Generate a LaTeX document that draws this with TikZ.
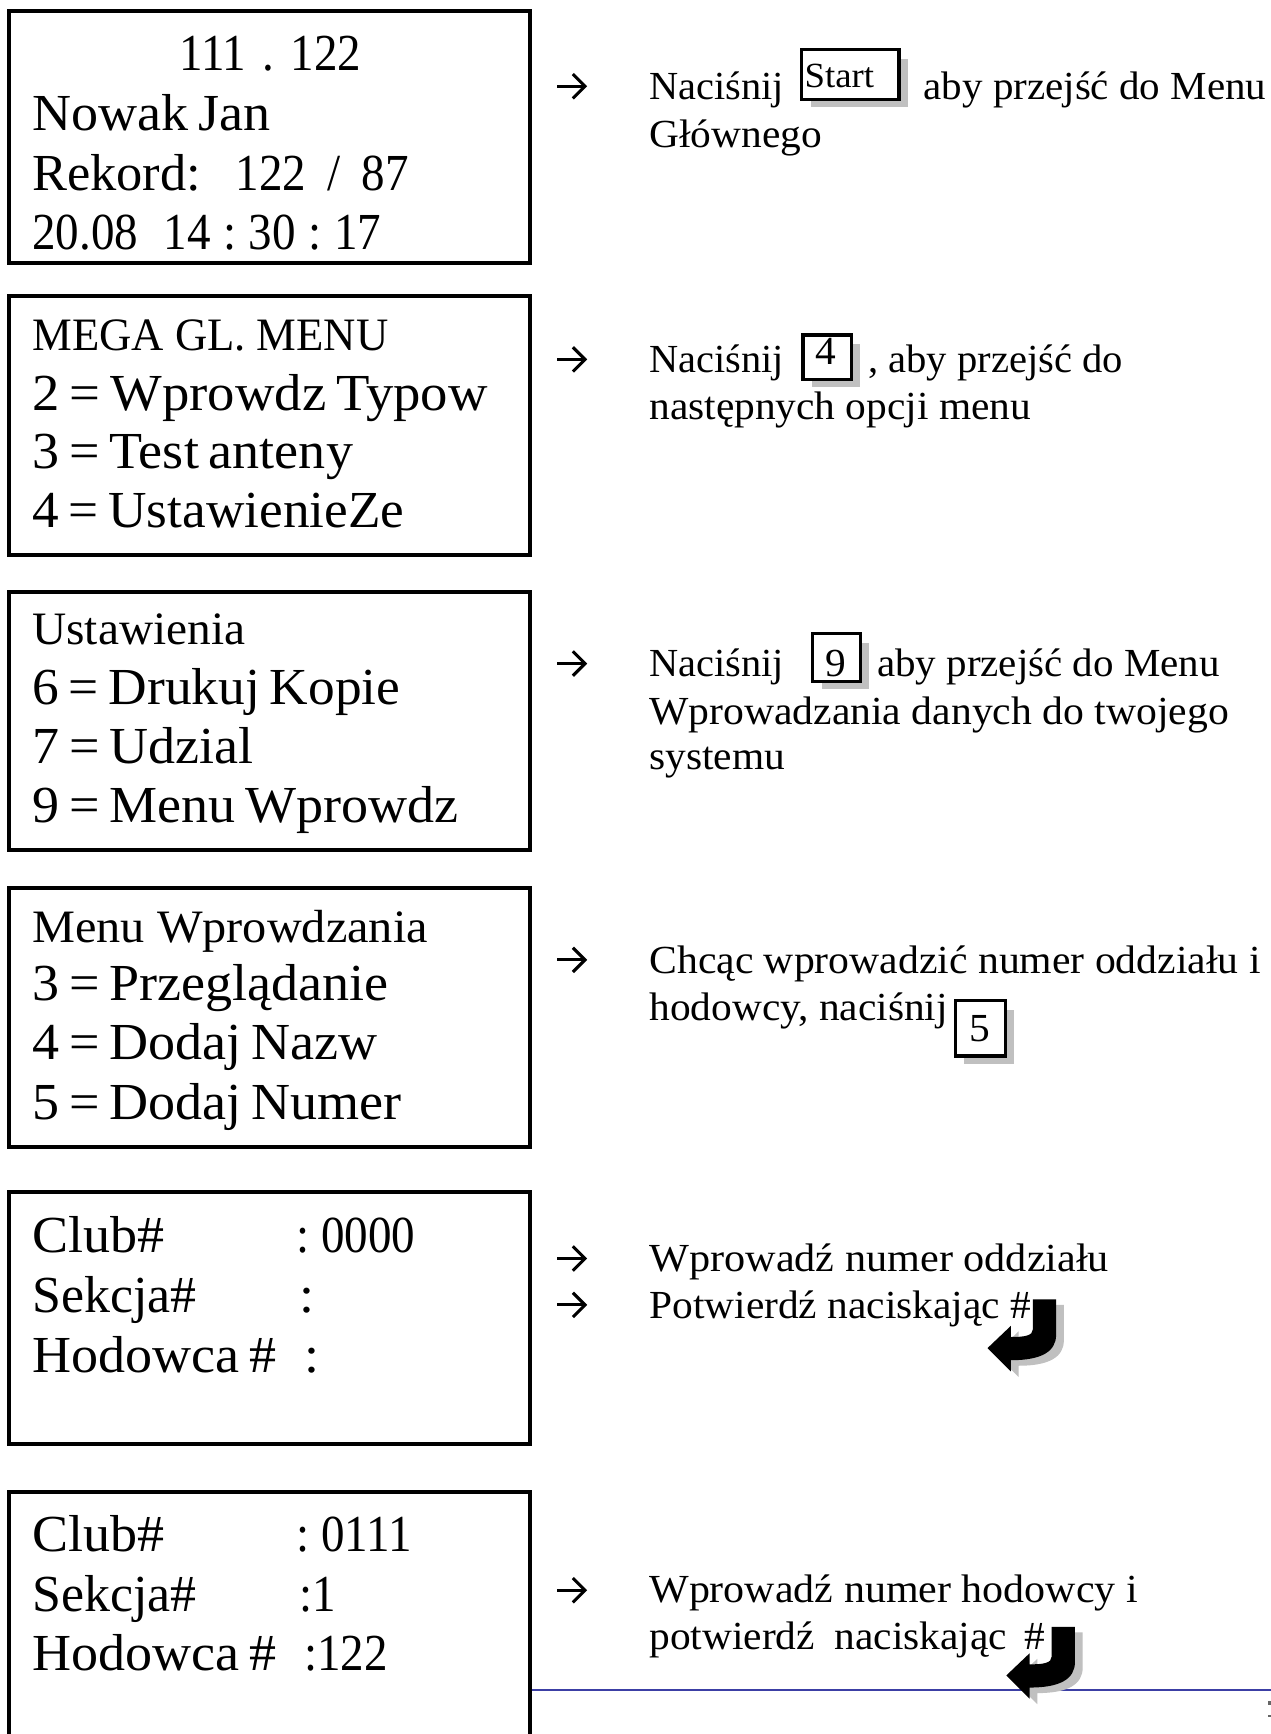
\documentclass[tikz,border=0pt]{standalone}
\usepackage{graphicx}
\usepackage{fontspec}
\setmainfont[FakeStretch=1.04]{Liberation Serif}
\usetikzlibrary{arrows.meta}
\definecolor{keyshade}{HTML}{C0C0C0}
\definecolor{rulecol}{HTML}{3C3FA5}
\newcommand{\dg}[1]{\scalebox{.87}[1]{#1}}
\newcommand{\sqz}[2]{\scalebox{#1}[1]{#2}}
\tikzset{
  x=1pt,y=-1pt,
  lcd/.style={draw,line width=3.6pt,fill=white},
  big/.style={anchor=base west,inner sep=0pt,font=\fontsize{47}{47}\selectfont,execute at begin node={\spaceskip=9pt\relax}},
  mid/.style={anchor=base west,inner sep=0pt,font=\fontsize{42}{42}\selectfont},
  note/.style={anchor=base west,inner sep=0pt,font=\fontsize{36}{36}\selectfont},
  keytext/.style={anchor=base,inner sep=0pt},
  keybox/.style={draw,line width=3pt,fill=white},
  pointer/.style={line width=2.8pt,-{Straight Barb[length=11pt,width=22pt,line width=2.8pt]}},
}
\newcommand{\retshape}{(0,0) -- (21,0) -- (21,32) .. controls (21,47) and (8,55) .. (-20,55) -- (-20,65) -- (-41,44) -- (-20,24) -- (-20,34) .. controls (-8,34) and (0,33) .. (0,27) -- cycle}
\newcommand{\retarrow}[2]{%
  \fill[keyshade,shift={(#1+7,#2+5)}] \retshape;
  \fill[black,shift={(#1,#2)}] \retshape;}
\newcommand{\keycap}[4]{% x1,y1,x2,y2
  \fill[keyshade] (#1+8,#2+8) rectangle (#3+8,#4+7);
  \draw[keybox] (#1,#2) rectangle (#3,#4);}
\newcommand{\pointerat}[2]{%
  \coordinate (p#1a) at (504,#2);
  \coordinate (p#1b) at (531,#2);
  \draw[pointer] (p#1a) -- (p#1b);}
\begin{document}
\begin{tikzpicture}
\useasboundingbox[fill=white] (0,0) rectangle (1149,1568);
\coordinate (ruleA) at (479,1528);
\coordinate (ruleB) at (1149,1528);
\draw[rulecol,line width=1.5pt] (ruleA) -- (ruleB);
\fill[black!60] (1147,1538) rectangle (1149,1542);
\fill[black!60] (1147,1551) rectangle (1149,1553);
% display boxes
\draw[lcd] (8,10) rectangle (479,238);
\draw[lcd] (8,268) rectangle (479,502);
\draw[lcd] (8,535) rectangle (479,769);
\draw[lcd] (8,803) rectangle (479,1037);
\draw[lcd] (8,1078) rectangle (479,1306);
\draw[lcd] (8,1580) -- (8,1349) -- (479,1349) -- (479,1580);
% box 1
\node[big] (a1) at (162,64) {\dg{111\hspace{17pt}.\hspace{17pt}122}};
\node[big] (a2) at (29,118) {Nowak Jan};
\node[big] (a3) at (29,172) {\sqz{.97}{Rekord:}};
\node[big] (a3v) at (213,172) {\dg{122\hspace{22pt}/\hspace{22pt}87}};
\node[big] (a4) at (29,226) {\dg{20.08}};
\node[big] (a4v) at (148,226) {\dg{14\hspace{13pt}:\hspace{13pt}30\hspace{13pt}:\hspace{13pt}17}};
% box 2
\node[mid] (b1) at (29,317) {\sqz{.925}{MEGA GL. MENU}};
\node[big] (b2) at (29,371) {\sqz{1.012}{2 = Wprowdz Typow}};
\node[big] (b3) at (29,424) {3 = Test anteny};
\node[big] (b4) at (29,477) {\sqz{.985}{4 = UstawienieZe}};
% box 3
\node[mid] (c1) at (29,583) {\sqz{.98}{Ustawienia}};
\node[big] (c2) at (29,637) {\sqz{.988}{6 = Drukuj Kopie}};
\node[big] (c3) at (29,690) {7 = Udzial};
\node[big] (c4) at (29,744) {9 = Menu Wprowdz};
% box 4
\node[mid] (d1) at (29,852) {Menu Wprowdzania};
\node[big] (d2) at (29,905) {3 = Przeglądanie};
\node[big] (d3) at (29,958) {4 = Dodaj Nazw};
\node[big] (d4) at (29,1012) {5 = Dodaj Numer};
% box 5
\node[big] (e1) at (29,1133) {Club\#};
\node[big] (e1v) at (268,1133) {\dg{:\hspace{12pt}0000}};
\node[big] (e2) at (29,1187) {\sqz{.96}{Sekcja\#}};
\node[big] (e2v) at (271,1187) {:};
\node[big] (e3) at (29,1241) {Hodowca \#};
\node[big] (e3v) at (275,1241) {:};
% box 6
\node[big] (f1) at (29,1403) {Club\#};
\node[big] (f1v) at (268,1403) {\dg{:\hspace{12pt}0111}};
\node[big] (f2) at (29,1457) {\sqz{.96}{Sekcja\#}};
\node[big] (f2v) at (271,1457) {\dg{:1}};
\node[big] (f3) at (29,1511) {Hodowca \#};
\node[big] (f3v) at (275,1511) {\dg{:122}};
% pointers
\pointerat{1}{78}
\pointerat{2}{325}
\pointerat{3}{600}
\pointerat{4}{868}
\pointerat{5}{1138}
\pointerat{6}{1180}
\pointerat{7}{1438}
% notes
\node[note] (n1) at (587,90) {\sqz{.975}{Naciśnij}};
\node[note] (n1b) at (835,90) {\sqz{.99}{aby przejść do Menu}};
\node[note] (n1c) at (587,133) {Głównego};
\node[note] (n2) at (587,337) {\sqz{.975}{Naciśnij}};
\node[note] (n2b) at (785,337) {\sqz{.98}{, aby przejść do}};
\node[note] (n2c) at (587,379) {następnych opcji menu};
\node[note] (n3) at (587,612) {\sqz{.975}{Naciśnij}};
\node[note] (n3b) at (793,612) {\sqz{.99}{aby przejść do Menu}};
\node[note] (n3c) at (587,655) {\sqz{1.006}{Wprowadzania danych do twojego}};
\node[note] (n3d) at (587,696) {systemu};
\node[note] (n4) at (587,880) {\sqz{1.007}{Chcąc wprowadzić numer oddziału i}};
\node[note] (n4b) at (587,923) {hodowcy, naciśnij};
\node[note] (n5) at (587,1150) {\sqz{1.02}{Wprowadź numer oddziału}};
\node[note] (n6) at (587,1192) {Potwierdź naciskając \#};
\node[note] (n7) at (587,1449) {\sqz{1.014}{Wprowadź numer hodowcy i}};
\node[note] (n7b) at (587,1492) {potwierdź\hspace{18pt}naciskając\hspace{16pt}\#};
% key caps
\keycap{725}{45}{813}{90}
\node[keytext,font=\fontsize{32}{32}\selectfont] (k1) at (759,79) {Start};
\keycap{726}{303}{770}{343}
\node[keytext,font=\fontsize{36}{36}\selectfont] (k2) at (747,330) {4};
\keycap{735}{573}{778}{616}
\node[keytext,font=\fontsize{36}{36}\selectfont] (k3) at (756,612) {9};
\keycap{864}{905}{909}{955}
\node[keytext,font=\fontsize{36}{36}\selectfont] (k4) at (886,942) {5};
% return arrows
\retarrow{934}{1175}
\retarrow{951}{1471}
\end{tikzpicture}
\end{document}
